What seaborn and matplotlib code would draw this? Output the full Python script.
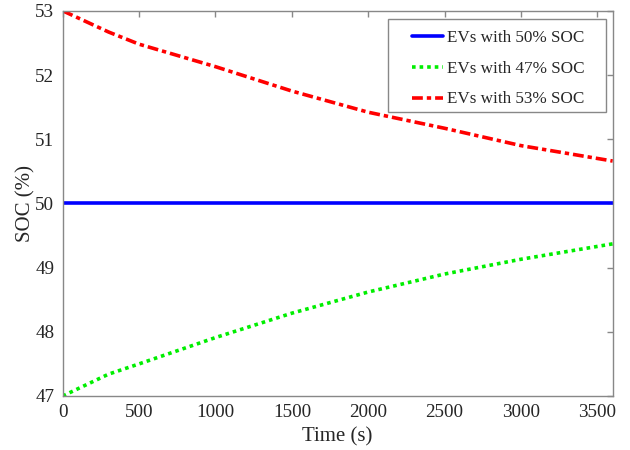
import matplotlib
matplotlib.use("Agg")
import matplotlib.pyplot as plt
import matplotlib.patches as mpatches
import numpy as np
import pandas as pd
import seaborn as sns

# Data
time_s = [0, 300, 500, 1000, 1500, 2000, 2500, 3000, 3600]
soc_50 = [50, 50, 50, 50, 50, 50, 50, 50, 50]
soc_47 = [47.0, 47.34, 47.5, 47.91, 48.29, 48.62, 48.9, 49.13, 49.37]
soc_53 = [53.0, 52.67, 52.48, 52.13, 51.75, 51.42, 51.17, 50.9, 50.66]
labels = ['EVs with 50% SOC', 'EVs with 47% SOC', 'EVs with 53% SOC']

sns.set_style("white")
plt.rcParams['font.family'] = ['Liberation Serif', 'DejaVu Serif']

fig = plt.figure(figsize=(6.3, 4.5), dpi=100)
ax = fig.add_axes([0.0995, 0.12, 0.873, 0.856])

sns.lineplot(x=time_s, y=soc_50, ax=ax, color='#0000ff', linewidth=2.6, label=labels[0])
sns.lineplot(x=time_s, y=soc_47, ax=ax, color='#00ee00', linewidth=2.6,
             linestyle=(0, (1, 1.1)), label=labels[1])
sns.lineplot(x=time_s, y=soc_53, ax=ax, color='#ff0000', linewidth=2.6,
             linestyle=(0, (3, 1.1, 1.2, 1.1)), label=labels[2])

ax.set_xlim(0, 3600)
ax.set_ylim(47, 53)
ax.set_xticks([0, 500, 1000, 1500, 2000, 2500, 3000, 3500])
ax.set_yticks([47, 48, 49, 50, 51, 52, 53])
ax.set_xlabel('Time (s)', fontsize=15, labelpad=4)
ax.set_ylabel('SOC (%)', fontsize=15, labelpad=0)

for s in ax.spines.values():
    s.set_color('#888888')
    s.set_linewidth(1)
ax.tick_params(direction='in', length=4, width=1, color='#888888',
               labelsize=13.8, top=True, right=True, pad=6)

# legend box (MATLAB style: wider horizontal padding than vertical)
box = mpatches.Rectangle((0.5915, 0.737), 0.3965, 0.241, transform=ax.transAxes,
                         facecolor='white', edgecolor='#888888', linewidth=1,
                         zorder=4)
ax.add_patch(box)
leg = ax.legend(loc='upper left', fontsize=12.3, frameon=False,
                handlelength=1.8, handletextpad=0.2, borderpad=0,
                labelspacing=0.85, borderaxespad=0,
                bbox_to_anchor=(0.636, 0.949))
leg.set_zorder(5)

fig.savefig('out.png', dpi=100)
